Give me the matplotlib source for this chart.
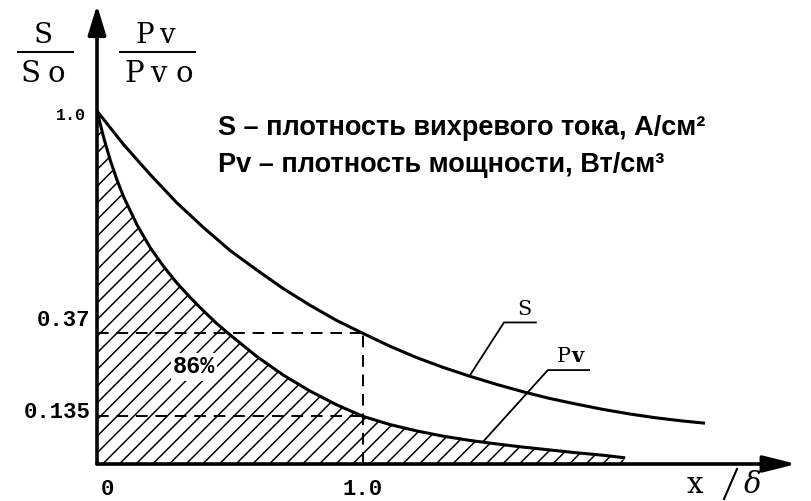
import matplotlib
matplotlib.use("Agg")
import matplotlib.pyplot as plt
from matplotlib.lines import Line2D

# Relative depth x/δ and the normalised curves read along it
x_s = [0.0, 0.1, 0.2, 0.3, 0.4, 0.5, 0.6, 0.7, 0.8, 0.9, 1.0, 1.1, 1.2,
       1.3, 1.4, 1.5, 1.6, 1.7, 1.8, 1.9, 2.0, 2.1, 2.2, 2.28]
s_ratio = [1.0, 0.905, 0.82, 0.74, 0.67, 0.605, 0.55, 0.497, 0.45, 0.407,
           0.37, 0.334, 0.302, 0.274, 0.249, 0.226, 0.205, 0.186, 0.170,
           0.155, 0.142, 0.131, 0.122, 0.116]

x_p = [0.0, 0.025, 0.05, 0.075, 0.1, 0.15, 0.2, 0.25, 0.3, 0.35, 0.4,
       0.45, 0.5, 0.6, 0.7, 0.8, 0.9, 1.0, 1.1, 1.2, 1.3, 1.4, 1.45, 1.5,
       1.6, 1.7, 1.8, 1.9, 1.98]
pv_ratio = [1.0, 0.925, 0.86, 0.805, 0.757, 0.678, 0.613, 0.56, 0.513,
            0.472, 0.434, 0.398, 0.366, 0.305, 0.252, 0.207, 0.168, 0.135,
            0.112, 0.094, 0.079, 0.067, 0.062, 0.057, 0.048, 0.040, 0.032,
            0.025, 0.018]

# Marked reference levels
x_mark = 1.0
s_mark = 0.37
pv_mark = 0.135
share_label = "86%"

y_tick_labels = ["1.0", "0.37", "0.135"]
x_tick_labels = ["0", "1.0"]

legend_lines = ["S – плотность вихревого тока, А/см²",
                "Pv – плотность мощности, Вт/см³"]

W, H = 811, 501
fig = plt.figure(figsize=(W / 100, H / 100), dpi=100)
fig.patch.set_facecolor("white")

XMAX, YMAX = 2.65, 1.31
PX_X, PX_Y = 266.0, 353.0
ox, oy = 97, 464
ax = fig.add_axes([ox / W, (H - oy) / H, XMAX * PX_X / W, YMAX * PX_Y / H])
ax.set_xlim(0, XMAX)
ax.set_ylim(0, YMAX)
ax.axis("off")

plt.rcParams["hatch.linewidth"] = 1.1
SERIF = "DejaVu Serif"

# Hatched area under the power-density curve
ax.fill_between(x_p, pv_ratio, 0, facecolor="white", edgecolor="black",
                hatch="//", linewidth=0)

# Curves
ax.plot(x_s, s_ratio, color="black", lw=2.2, solid_joinstyle="round")
ax.plot(x_p, pv_ratio, color="black", lw=2.2, solid_joinstyle="round")

# Dashed construction lines
dash = dict(color="black", lw=1.4, dashes=(6, 4))
ax.plot([0, x_mark], [s_mark, s_mark], **dash)
ax.plot([0, x_mark], [pv_mark, pv_mark], **dash)
ax.plot([x_mark, x_mark], [0, s_mark], **dash)

# Axes drawn as arrows
ax.annotate("", xy=(2.63, 0), xytext=(0, 0), xycoords="data",
            arrowprops=dict(arrowstyle="-|>,head_length=2.0,head_width=0.5",
                            lw=2.6, color="black", shrinkA=0, shrinkB=0),
            annotation_clip=False)
ax.annotate("", xy=(0, 1.30), xytext=(0, 0), xycoords="data",
            arrowprops=dict(arrowstyle="-|>,head_length=1.8,head_width=0.55",
                            lw=2.6, color="black", shrinkA=0, shrinkB=0),
            annotation_clip=False)

# Tick labels
tick_font = dict(family="Liberation Mono", weight="bold")
ax.text(-0.04, 1.0 - 0.012, y_tick_labels[0], ha="right", va="center",
        fontsize=12, **tick_font)
ax.text(-0.025, s_mark + 0.037, y_tick_labels[1], ha="right", va="center",
        fontsize=16, **tick_font)
ax.text(-0.025, pv_mark + 0.012, y_tick_labels[2], ha="right", va="center",
        fontsize=16, **tick_font)
ax.text(0.038, -0.073, x_tick_labels[0], ha="center", va="center",
        fontsize=16, **tick_font)
ax.text(x_mark, -0.071, x_tick_labels[1], ha="center", va="center",
        fontsize=16, **tick_font)

# Share of power released inside one penetration depth
ax.text(0.365, 0.275, share_label, ha="center", va="center", fontsize=17,
        bbox=dict(facecolor="white", edgecolor="none", pad=1.5), **tick_font)

# Curve labels with leader lines
i_s = x_s.index(1.4)
xa, ya = x_s[i_s], s_ratio[i_s]
ax.plot([xa, xa + 0.13, xa + 0.25], [ya, ya + 0.152, ya + 0.152],
        color="black", lw=1.3)
ax.text(xa + 0.205, ya + 0.172, "S", ha="center", va="baseline",
        fontsize=15, family=SERIF)

i_p = x_p.index(1.45)
xb, yb = x_p[i_p], pv_ratio[i_p]
ax.plot([xb, xb + 0.245, xb + 0.40], [yb, yb + 0.204, yb + 0.204],
        color="black", lw=1.3)
ax.text(xb + 0.33, yb + 0.226, "P", ha="right", va="baseline",
        fontsize=15, family=SERIF)
ax.text(xb + 0.335, yb + 0.226, "v", ha="left", va="baseline",
        fontsize=15, family=SERIF, weight="bold")

# Axis title x/δ
fig.text(695 / W, 1 - 493 / H, "x", ha="center", va="baseline",
         fontsize=21, family=SERIF)
fig.text(753 / W, 1 - 493 / H, "δ", ha="center", va="baseline",
         fontsize=21, family=SERIF, style="italic")
fig.add_artist(Line2D([724 / W, 737 / W], [1 - 499 / H, 1 - 469 / H],
                      color="black", lw=1.5))


# Fractional y-axis titles, set letter by letter with wide spacing
def spaced(letters, centres, baseline, size):
    for ch, cx in zip(letters, centres):
        fig.text(cx / W, 1 - baseline / H, ch, ha="center", va="baseline",
                 fontsize=size, family=SERIF)


spaced("S", [43], 43, 20)
spaced("So", [30, 56], 82, 21)
fig.add_artist(Line2D([18 / W, 73 / W], [1 - 52 / H, 1 - 52 / H],
                      color="black", lw=1.4))
spaced("Pv", [145, 167], 43, 20)
spaced("Pvo", [134, 158, 184], 82, 21)
fig.add_artist(Line2D([120 / W, 195 / W], [1 - 52 / H, 1 - 52 / H],
                      color="black", lw=1.4))

# Legend text
fig.text(218 / W, 1 - 135 / H, legend_lines[0], ha="left", va="baseline",
         fontsize=19.5, family="Liberation Sans", weight="bold")
fig.text(218 / W, 1 - 172 / H, legend_lines[1], ha="left", va="baseline",
         fontsize=19.5, family="Liberation Sans", weight="bold")

fig.savefig("out.png", dpi=100, facecolor="white")
